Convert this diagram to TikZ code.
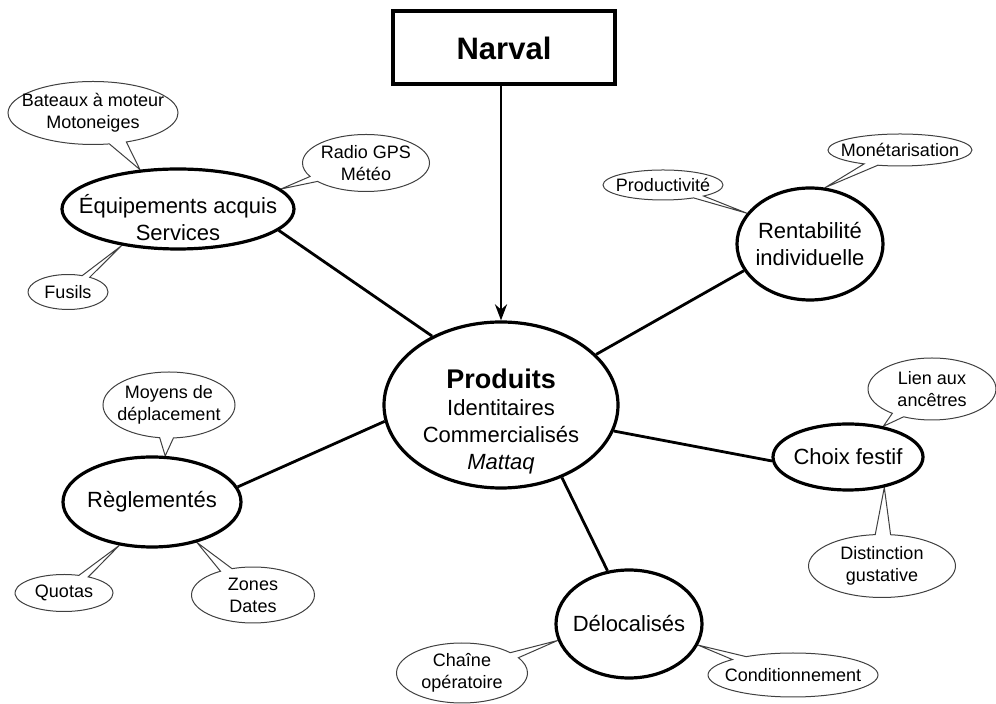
\documentclass[tikz,border=0pt]{standalone}
\usepackage{fontspec}
\setmainfont{Liberation Sans}
\usetikzlibrary{shapes.geometric,shapes.callouts,arrows.meta,backgrounds}

\begin{document}
\begin{tikzpicture}[x=0.5pt, y=-0.5pt,
    every node/.style={align=center, inner xsep=-30pt, inner ysep=-20pt},
    main/.style={ellipse, draw, line width=1.6pt, fill=white, font=\fontsize{11}{13.5}\selectfont},
    bubble/.style={ellipse callout, draw=black!75, line width=0.5pt, fill=white, callout pointer arc=12, font=\fontsize{9}{11}\selectfont},
    link/.style={line width=1.4pt}]

    \useasboundingbox (0,0) rectangle (996,704);

    \node[draw, line width=2pt, inner sep=0pt, minimum width=111pt, minimum height=36.5pt, font=\fontsize{15.5}{18}\selectfont\bfseries] (narval) at (504,48) {Narval};

    \node[main, minimum width=117pt, minimum height=83pt] (produits) at (501,405)
        {\rule{0pt}{26pt}{\fontsize{13.5}{16}\selectfont\bfseries Produits}\\ Identitaires\\ Commercialisés\\ \textit{Mattaq}};
    \node[main, minimum width=116pt, minimum height=40pt] (equip) at (178,209) {\rule{0pt}{18.5pt}Équipements acquis\\ Services};
    \node[main, minimum width=73pt, minimum height=56pt] (rentab) at (810,244) {Rentabilité\\ individuelle};
    \node[main, minimum width=75pt, minimum height=33pt] (choix) at (848,457) {Choix festif};
    \node[main, minimum width=89pt, minimum height=45pt] (regl) at (152,502) {Règlementés};
    \node[main, minimum width=73pt, minimum height=54pt] (deloc) at (629,624) {Délocalisés};

    \draw[link, -{Stealth[length=8pt, width=6pt]}] (narval.south -| produits.north) -- (produits.north);

    \begin{pgfonlayer}{background}
    \draw[link] (produits.135) -- (equip.-12);
    \draw[link] (produits.28) -- (rentab.202);
    \draw[link] (produits.188) -- (regl.10);
    \draw[link] (produits.-13) -- (choix.183);
    \draw[link] (produits.-50) -- (deloc.112);

    \node[bubble, minimum width=85pt, minimum height=31.5pt, callout absolute pointer={(equip.134)}] (c_bateaux) at (93,113) {Bateaux à moteur\\ Motoneiges};
    \node[bubble, minimum width=63.5pt, minimum height=28.5pt, callout absolute pointer={(equip.11)}] (c_radio) at (366,163) {Radio GPS\\ Météo};
    \node[bubble, minimum width=40pt, minimum height=17.5pt, callout absolute pointer={(equip.213)}] (c_fusils) at (68,292) {Fusils};
    \node[bubble, minimum width=60pt, minimum height=15pt, callout absolute pointer={(rentab.154)}] (c_product) at (663,185) {Productivité};
    \node[bubble, minimum width=72pt, minimum height=16pt, callout absolute pointer={(rentab.75)}] (c_monet) at (900,150) {Monétarisation};
    \node[bubble, minimum width=64pt, minimum height=31pt, callout absolute pointer={(choix.41)}] (c_lien) at (932,389) {Lien aux\\ ancêtres};
    \node[bubble, minimum width=73.5pt, minimum height=31.5pt, callout absolute pointer={(choix.-40)}] (c_distinct) at (882,566) {Distinction\\ gustative};
    \node[bubble, minimum width=66pt, minimum height=33pt, callout absolute pointer={(regl.74)}] (c_moyens) at (169,405) {Moyens de\\ déplacement};
    \node[bubble, minimum width=49pt, minimum height=18.5pt, callout absolute pointer={(regl.233)}] (c_quotas) at (64,593) {Quotas};
    \node[bubble, minimum width=61.5pt, minimum height=28pt, callout absolute pointer={(regl.-42)}] (c_zones) at (253,595) {Zones\\ Dates};
    \node[bubble, minimum width=65.5pt, minimum height=30pt, callout absolute pointer={(deloc.193)}] (c_chaine) at (462,673) {Chaîne\\ opératoire};
    \node[bubble, minimum width=85pt, minimum height=22pt, callout absolute pointer={(deloc.-17)}] (c_condit) at (793,675) {Conditionnement};
    \end{pgfonlayer}

\end{tikzpicture}
\end{document}
